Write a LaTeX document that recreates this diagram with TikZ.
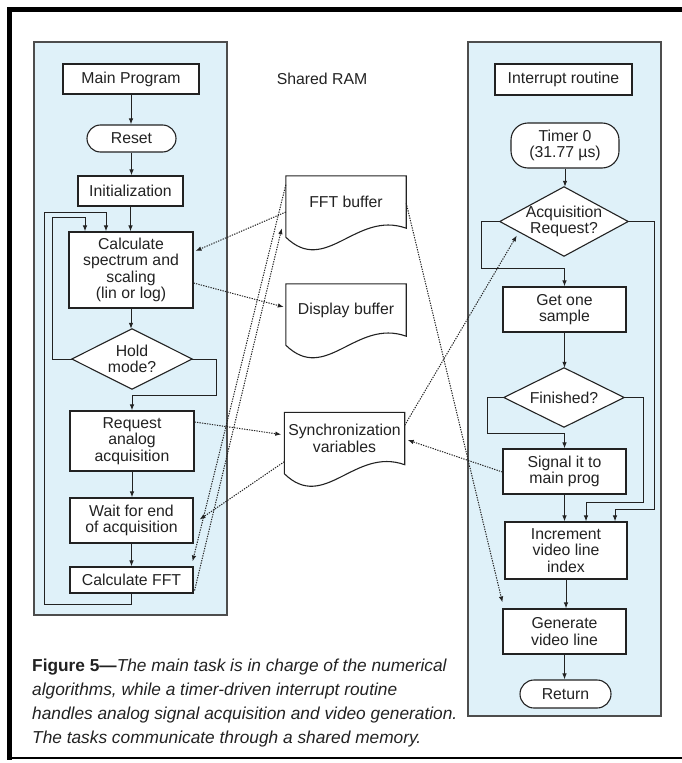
\documentclass[tikz,border=0pt]{standalone}
\usepackage{fontspec}
\setmainfont{Liberation Sans}
\usetikzlibrary{arrows.meta,calc}
\pgfdeclarelayer{panel}
\pgfdeclarelayer{shapes}
\pgfsetlayers{panel,shapes,main}
\definecolor{panelblue}{HTML}{DFF1F9}
\definecolor{panelline}{HTML}{4D4D4D}
\definecolor{ink}{HTML}{222222}
\tikzset{
  every node/.style={font=\fontsize{15.8bp}{16.6bp}\selectfont, text=ink},
  box/.style={draw=ink, fill=white, line width=1.1bp, inner sep=0pt, align=center},
  term/.style={box, rounded corners=13.5bp},
  decision/.style={inner sep=0pt, align=center},
  doc/.style={inner sep=0pt, align=center, minimum width=120bp, minimum height=52bp},
  outline/.style={draw=ink, fill=white, line width=1.1bp},
  flow/.style={draw=ink, line width=1bp, -{Latex[length=6bp,width=4.5bp]}},
  link/.style={draw=ink, line width=1bp, dash pattern=on 1.3bp off 1.2bp, -{Latex[length=6bp,width=4.5bp]}},
  panel/.style={draw=panelline, fill=panelblue, line width=1.4bp},
}
\begin{document}
\begin{tikzpicture}[x=1bp,y=-1bp]
\useasboundingbox (0,0) rectangle (682,763);
% page frame
\fill[black] (7,7) rectangle (682,12);
\fill[black] (7,7) rectangle (12,760);
\fill[black] (7,756.5) rectangle (682,758.5);

% task panels
\begin{pgfonlayer}{panel}
\path[panel] (34,42) rectangle (227,615);
\path[panel] (468,42) rectangle (661,716);
\end{pgfonlayer}

% main program
\node[box, minimum width=136bp, minimum height=30bp] (main) at (131,79) {Main Program};
\node[term, minimum width=89bp, minimum height=27bp] (reset) at (131.5,138.5) {Reset};
\node[box, minimum width=105bp, minimum height=30bp] (init) at (130.5,191) {Initialization};
\node[box, minimum width=124bp, minimum height=76bp] (calc) at (131,270) {Calculate\\spectrum and\\scaling\\(lin or log)};
\node[decision, minimum width=120bp, minimum height=60bp] (hold) at (132,359) {Hold\\mode?};
\node[box, minimum width=124bp, minimum height=60bp] (req) at (132,441) {Request\\analog\\acquisition};
\node[box, minimum width=123bp, minimum height=45bp] (wait) at (131.5,520.5) {Wait for end\\of acquisition};
\node[box, minimum width=123bp, minimum height=26bp] (cfft) at (131.5,580) {Calculate FFT};

% shared memory
\node (ram) at (322,79) {Shared RAM};
\node[doc] (fft) at (346,202) {FFT buffer};
\node[doc] (disp) at (346,310) {Display buffer};
\node[doc] (sync) at (344.5,438.5) {Synchronization\\variables};

% interrupt routine
\node[box, minimum width=137bp, minimum height=31bp] (irq) at (563.5,79.5) {Interrupt routine};
\node[box, rounded corners=17bp, minimum width=108bp, minimum height=45bp] (timer) at (565,145.5) {Timer 0\\(31.77 µs)};
\node[decision, minimum width=128bp, minimum height=69bp] (acq) at (564,221.5) {Acquisition\\Request?};
\node[box, minimum width=123bp, minimum height=45bp] (get) at (564.5,309.5) {Get one\\sample};
\node[decision, minimum width=120bp, minimum height=59bp] (fin) at (564,397.5) {Finished?};
\node[box, minimum width=123bp, minimum height=45bp] (sig) at (564.5,471.5) {Signal it to\\main prog};
\node[box, minimum width=122bp, minimum height=57bp] (inc) at (566,550.5) {Increment\\video line\\index};
\node[box, minimum width=123bp, minimum height=45bp] (gen) at (564.5,631.5) {Generate\\video line};
\node[term, rounded corners=14bp, minimum width=91bp, minimum height=28bp] (ret) at (565.5,694) {Return};

% decision and document outlines, behind their texts
\begin{pgfonlayer}{shapes}
\foreach \n in {hold,acq,fin}
  \path[outline] (\n.north) -- (\n.east) -- (\n.south) -- (\n.west) -- cycle;
\foreach \n in {fft,disp,sync}
  \path[outline] ($(\n.south west)+(0,9)$) -- (\n.north west) -- (\n.north east) -- (\n.south east)
    .. controls ($(\n.south west)+(70,-18)$) and ($(\n.south west)+(40,48)$) .. ($(\n.south west)+(0,9)$) -- cycle;
\end{pgfonlayer}

% main program flow
\draw[flow] (main.south) -- (main.south |- reset.north);
\draw[flow] (reset.south) -- (reset.south |- init.north);
\draw[flow] (init.south) -- (init.south |- calc.north);
\draw[flow] (calc.south) -- (calc.south |- hold.north);
\draw[flow] (hold.east) -| (216,395) -| (req.north);
\draw[flow] (hold.west) -| (52,217) -| ($(calc.north)+(-46,0)$);
\draw[flow] (req.south) -- (req.south |- wait.north);
\draw[flow] (wait.south) -- (wait.south |- cfft.north);
\draw[flow] (cfft.south) -- ++(0,11) -| (44,212) -| ($(calc.north)+(-25,0)$);

% interrupt routine flow
\draw[flow] (timer.south) -- (timer.south |- acq.north);
\draw[flow] (acq.west) -| (481,268) -| (get.north);
\draw[flow] (acq.east) -| (654,509) -| ($(inc.north)+(49,0)$);
\draw[flow] (get.south) -- (get.south |- fin.north);
\draw[flow] (fin.west) -| (487,433) -| (sig.north);
\draw[flow] (fin.east) -| (643,502) -| ($(inc.north)+(20,0)$);
\draw[flow] (sig.south) -- (sig.south |- inc.north);
\draw[flow] (inc.south) -- (inc.south |- gen.north);
\draw[flow] (gen.south) -- (gen.south |- ret.north);

% shared memory accesses
\draw[link] ($(fft.west)+(0,10)$) -- ($(calc.east)+(2,-19)$);
\draw[link] ($(calc.east)+(0,13)$) -- ($(disp.west)+(-2,-3)$);
\draw[link] ($(fft.north west)+(0,9)$) -- ($(cfft.north east)+(-1,-5)$);
\draw[link] ($(cfft.south east)+(1,-3)$) -- ($(fft.south west)+(-4,0)$);
\draw[link] ($(req.east)+(0,-19)$) -- ($(sync.west)+(-3,-4)$);
\draw[link] ($(sync.south west)+(0,-3)$) -- ($(wait.east)+(6,-1)$);
\draw[link] ($(sync.north east)+(0,13)$) -- ($(acq.west)+(17,14)$);
\draw[link] ($(sig.west)+(0,0.5)$) -- ($(sync.east)+(3,1.5)$);
\draw[link] ($(fft.east)+(0,1)$) -- ($(gen.north west)+(0,-6)$);

% caption
\node[anchor=north west, align=left, inner sep=0pt, font=\fontsize{17.3bp}{24bp}\selectfont] (cap) at (32,659)
  {\textbf{Figure 5—}\textit{The main task is in charge of the numerical}\\
   \textit{algorithms, while a timer-driven interrupt routine}\\
   \textit{handles analog signal acquisition and video generation.}\\
   \textit{The tasks communicate through a shared memory.}};
\end{tikzpicture}
\end{document}
